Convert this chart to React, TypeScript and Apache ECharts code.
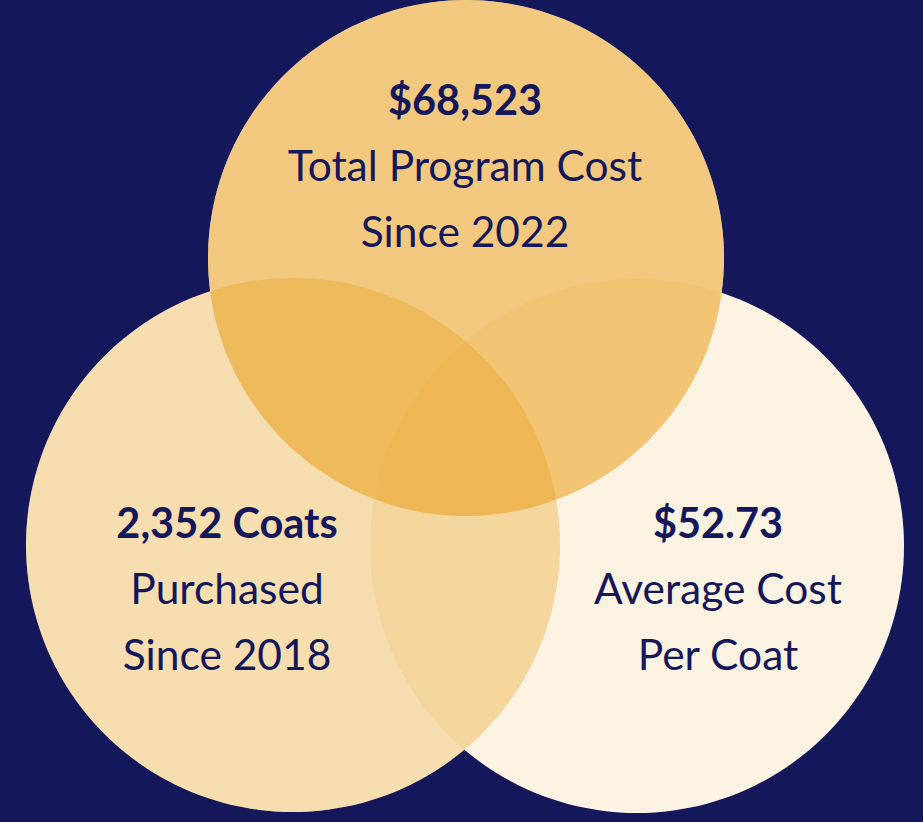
import React, { useEffect, useRef } from "react";
import * as echarts from "echarts";

// ---- Data (Venn sets) ----
const setNames = ["Total Program Cost", "Coats Purchased", "Average Cost Per Coat"];
const setCenterX = [466, 293, 637];
const setCenterY = [258, 545, 546];
const setRadius = [258, 267, 267];
const setOpacity = [0.55, 0.34, 0.12];
const drawOrder = [1, 2, 0];

const headline = ["$68,523", "2,352 Coats", "$52.73"];
const subLine1 = ["Total Program Cost", "Purchased", "Average Cost"];
const subLine2 = ["Since 2022", "Since 2018", "Per Coat"];

// ---- Layout (label anchors, in the same coordinate frame) ----
const labelAnchorX = [465, 227, 718];
const labelAnchorY = [99, 522, 522];
const lineGap = 65.5;

const NAVY = "#141759";
const GOLD = "#E99D18";
const FONT = "Lato, 'Noto Sans', sans-serif";

export default function App() {
  const ref = useRef<HTMLDivElement>(null);
  useEffect(() => {
    document.body.style.margin = "0";
    if (!ref.current) return;
    const chart = echarts.init(ref.current, undefined, { renderer: "svg" });

    const circleData = drawOrder.map((i) => [setCenterX[i], setCenterY[i], setRadius[i], setOpacity[i], setNames[i]]);
    const textData: any[] = [];
    for (let i = 0; i < 3; i++) {
      textData.push([labelAnchorX[i], labelAnchorY[i], headline[i], 1]);
      textData.push([labelAnchorX[i], labelAnchorY[i] + lineGap, subLine1[i], 0]);
      textData.push([labelAnchorX[i], labelAnchorY[i] + 2 * lineGap, subLine2[i], 0]);
    }

    const circleItem = (white: boolean) => (params: any, api: any) => {
      const p = api.coord([api.value(0), api.value(1)]);
      const r = api.size([api.value(2), 0])[0];
      return {
        type: "circle",
        shape: { cx: p[0], cy: p[1], r },
        style: white
          ? { fill: "#FFFFFF" }
          : { fill: GOLD, opacity: api.value(3) as number },
      };
    };

    chart.setOption({
      animation: false,
      backgroundColor: NAVY,
      grid: { left: 0, right: 0, top: 0, bottom: 0 },
      xAxis: { type: "value", min: 0, max: 923, show: false },
      yAxis: { type: "value", min: 0, max: 822, inverse: true, show: false },
      series: [
        {
          type: "custom",
          renderItem: circleItem(true),
          data: circleData,
          silent: true,
        },
        {
          type: "custom",
          renderItem: circleItem(false),
          data: circleData,
          silent: true,
        },
        {
          type: "custom",
          data: textData,
          silent: true,
          renderItem: (params: any, api: any) => {
            const p = api.coord([api.value(0), api.value(1)]);
            const bold = api.value(3) === 1;
            return {
              type: "text",
              x: p[0],
              y: p[1],
              style: {
                text: textData[params.dataIndex][2],
                fill: NAVY,
                fontFamily: FONT,
                fontSize: bold ? 41.5 : 42.5,
                fontWeight: bold ? "bold" : "normal",
                align: "center",
                verticalAlign: "middle",
              },
            };
          },
        },
      ],
    });
    return () => chart.dispose();
  }, []);
  return <div ref={ref} style={{ width: 923, height: 822 }} />;
}
